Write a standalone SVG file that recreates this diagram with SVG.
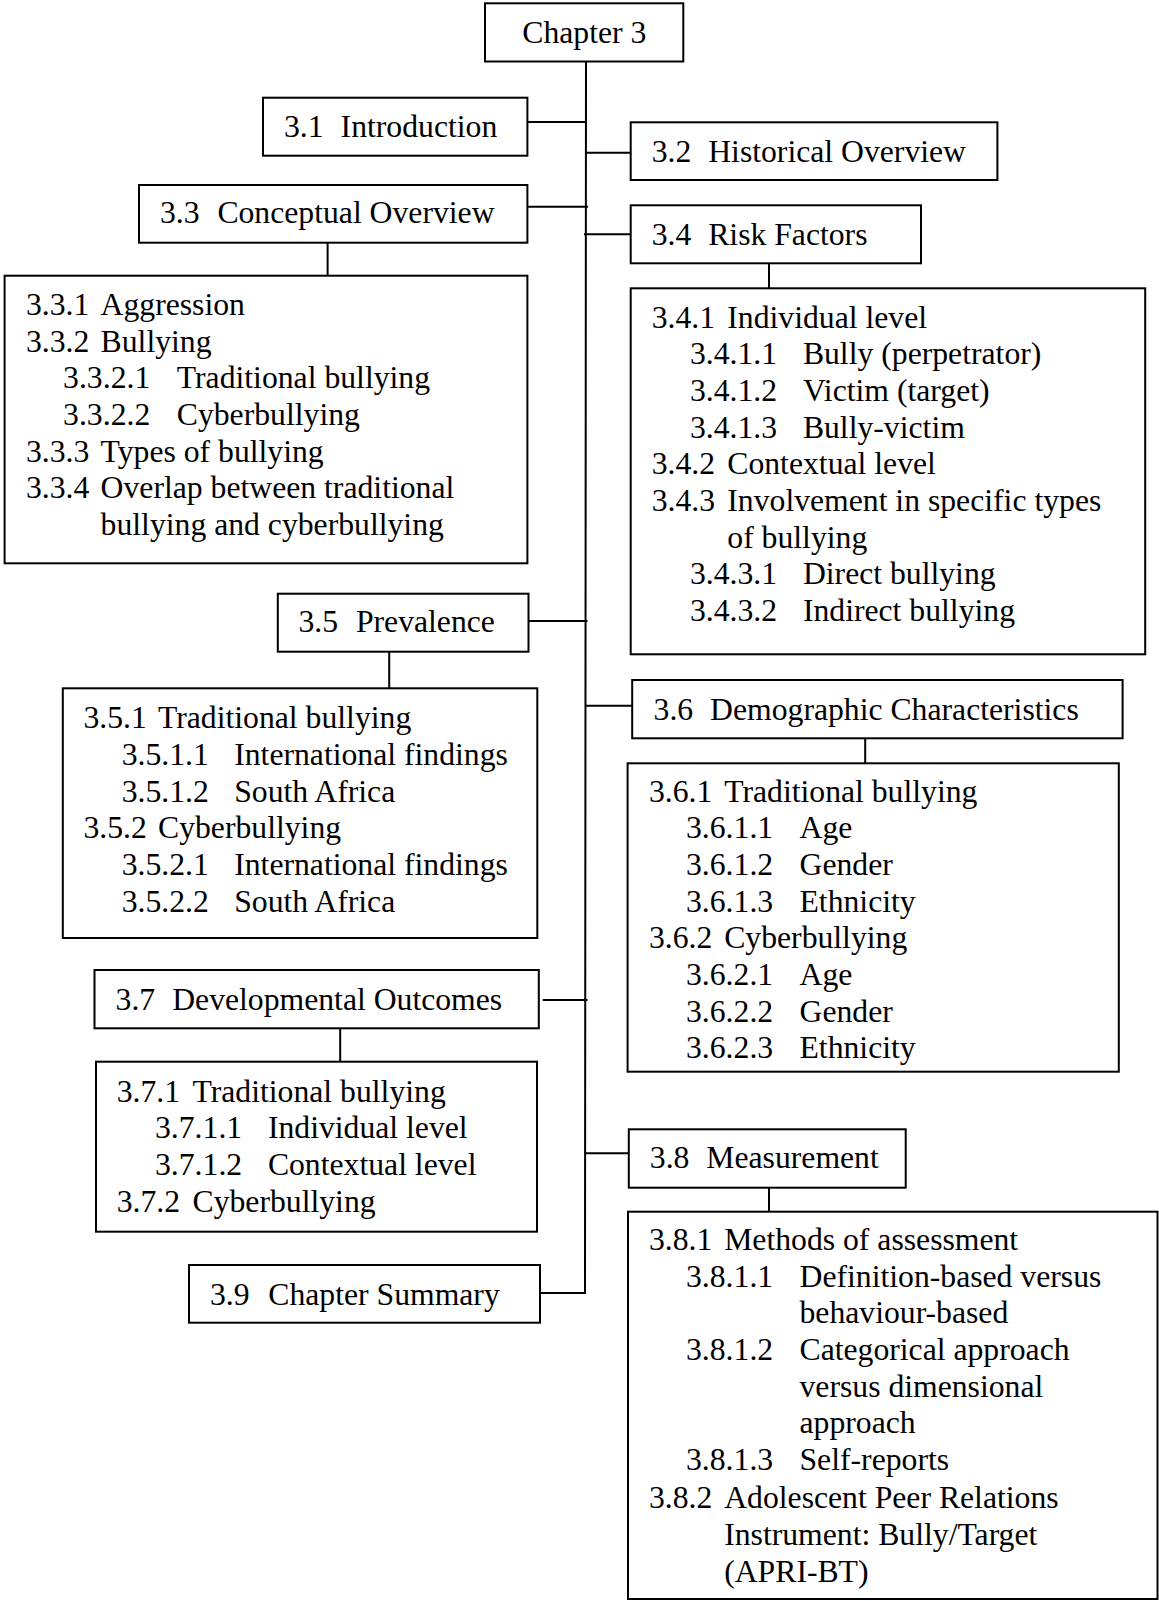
<svg xmlns="http://www.w3.org/2000/svg" width="1159" height="1601" viewBox="0 0 1159 1601">
  <style>
    .box { fill: #fff; stroke: #000; stroke-width: 2; }
    .wire { fill: none; stroke: #000; stroke-width: 2; }
    text { font-family: "Liberation Serif", "Times New Roman", serif; font-size: 31.7px; fill: #000; }
  </style>
  <rect width="1159" height="1601" fill="#fff"/>

  <!-- connectors: trunk, branches and drops to detail boxes -->
  <g id="connectors">
    <path class="wire" d="M586 61.5 L585 1293 H540"/>
    <path class="wire" d="M527.4 122 H585"/>
    <path class="wire" d="M585 152.7 H630.7"/>
    <path class="wire" d="M527.4 206.7 H588"/>
    <path class="wire" d="M584 234.3 H630.7"/>
    <path class="wire" d="M327.6 242.7 V275.7"/>
    <path class="wire" d="M769 263.3 V288.3"/>
    <path class="wire" d="M528.5 621 H587.5"/>
    <path class="wire" d="M389.2 651.7 V688.3"/>
    <path class="wire" d="M585 705.7 H632.2"/>
    <path class="wire" d="M865.2 738.3 V763.3"/>
    <path class="wire" d="M542.7 1000 H587.5"/>
    <path class="wire" d="M340.2 1028.3 V1061.7"/>
    <path class="wire" d="M585 1153.3 H628.8"/>
    <path class="wire" d="M769 1187.7 V1211.7"/>
  </g>

  <g id="chapter3">
    <rect class="box" x="485" y="3.3" width="198.3" height="58.2"/>
    <text x="522.3" y="43.3">Chapter 3</text>
  </g>

  <g id="s3_1">
    <rect class="box" x="263" y="97.7" width="264.4" height="58"/>
    <text y="137.3"><tspan x="284">3.1</tspan><tspan x="340.6">Introduction</tspan></text>
  </g>

  <g id="s3_2">
    <rect class="box" x="630.7" y="122.3" width="366.7" height="57.7"/>
    <text y="162.3"><tspan x="651.7">3.2</tspan><tspan x="708.2">Historical Overview</tspan></text>
  </g>

  <g id="s3_3">
    <rect class="box" x="139" y="185" width="388.4" height="57.7"/>
    <text y="223.3"><tspan x="160">3.3</tspan><tspan x="217.4">Conceptual Overview</tspan></text>
  </g>

  <g id="s3_3_detail">
    <rect class="box" x="4.6" y="275.7" width="522.8" height="287.6"/>
    <text y="315"><tspan x="26">3.3.1</tspan><tspan x="100.6">Aggression</tspan></text>
    <text y="351.7"><tspan x="26">3.3.2</tspan><tspan x="100.6">Bullying</tspan></text>
    <text y="388.3"><tspan x="63.1">3.3.2.1</tspan><tspan x="176.8">Traditional bullying</tspan></text>
    <text y="425"><tspan x="63.1">3.3.2.2</tspan><tspan x="176.8">Cyberbullying</tspan></text>
    <text y="461.7"><tspan x="26">3.3.3</tspan><tspan x="100.6">Types of bullying</tspan></text>
    <text y="498.3"><tspan x="26">3.3.4</tspan><tspan x="100.6">Overlap between traditional</tspan></text>
    <text y="535" x="100.6">bullying and cyberbullying</text>
  </g>

  <g id="s3_4">
    <rect class="box" x="630.7" y="205.3" width="290.3" height="58"/>
    <text y="245"><tspan x="651.7">3.4</tspan><tspan x="708.2">Risk Factors</tspan></text>
  </g>

  <g id="s3_4_detail">
    <rect class="box" x="630.7" y="288.3" width="514.5" height="366"/>
    <text y="327.7"><tspan x="651.7">3.4.1</tspan><tspan x="727.3">Individual level</tspan></text>
    <text y="364.3"><tspan x="689.9">3.4.1.1</tspan><tspan x="802.9">Bully (perpetrator)</tspan></text>
    <text y="401"><tspan x="689.9">3.4.1.2</tspan><tspan x="802.9">Victim (target)</tspan></text>
    <text y="437.7"><tspan x="689.9">3.4.1.3</tspan><tspan x="802.9">Bully-victim</tspan></text>
    <text y="474.3"><tspan x="651.7">3.4.2</tspan><tspan x="727.3">Contextual level</tspan></text>
    <text y="511"><tspan x="651.7">3.4.3</tspan><tspan x="727.3">Involvement in specific types</tspan></text>
    <text y="547.7" x="727.3">of bullying</text>
    <text y="584.3"><tspan x="689.9">3.4.3.1</tspan><tspan x="802.9">Direct bullying</tspan></text>
    <text y="621"><tspan x="689.9">3.4.3.2</tspan><tspan x="802.9">Indirect bullying</tspan></text>
  </g>

  <g id="s3_5">
    <rect class="box" x="277.8" y="593.7" width="250.7" height="58"/>
    <text y="632.3"><tspan x="298.5">3.5</tspan><tspan x="355.9">Prevalence</tspan></text>
  </g>

  <g id="s3_5_detail">
    <rect class="box" x="62.8" y="688.3" width="474.5" height="249.7"/>
    <text y="728.3"><tspan x="83.4">3.5.1</tspan><tspan x="158">Traditional bullying</tspan></text>
    <text y="765"><tspan x="121.7">3.5.1.1</tspan><tspan x="234.2">International findings</tspan></text>
    <text y="801.7"><tspan x="121.7">3.5.1.2</tspan><tspan x="234.2">South Africa</tspan></text>
    <text y="838.3"><tspan x="83.4">3.5.2</tspan><tspan x="158">Cyberbullying</tspan></text>
    <text y="875"><tspan x="121.7">3.5.2.1</tspan><tspan x="234.2">International findings</tspan></text>
    <text y="911.7"><tspan x="121.7">3.5.2.2</tspan><tspan x="234.2">South Africa</tspan></text>
  </g>

  <g id="s3_6">
    <rect class="box" x="632.2" y="680" width="490.4" height="58.3"/>
    <text y="720"><tspan x="653.6">3.6</tspan><tspan x="710.1">Demographic Characteristics</tspan></text>
  </g>

  <g id="s3_6_detail">
    <rect class="box" x="627.6" y="763.3" width="491.2" height="308.4"/>
    <text y="801.7"><tspan x="649">3.6.1</tspan><tspan x="724.2">Traditional bullying</tspan></text>
    <text y="838.3"><tspan x="686">3.6.1.1</tspan><tspan x="799.5">Age</tspan></text>
    <text y="875"><tspan x="686">3.6.1.2</tspan><tspan x="799.5">Gender</tspan></text>
    <text y="911.7"><tspan x="686">3.6.1.3</tspan><tspan x="799.5">Ethnicity</tspan></text>
    <text y="948.3"><tspan x="649">3.6.2</tspan><tspan x="724.2">Cyberbullying</tspan></text>
    <text y="985"><tspan x="686">3.6.2.1</tspan><tspan x="799.5">Age</tspan></text>
    <text y="1021.7"><tspan x="686">3.6.2.2</tspan><tspan x="799.5">Gender</tspan></text>
    <text y="1058.3"><tspan x="686">3.6.2.3</tspan><tspan x="799.5">Ethnicity</tspan></text>
  </g>

  <g id="s3_7">
    <rect class="box" x="94.5" y="970" width="444.3" height="58.3"/>
    <text y="1010"><tspan x="115.6">3.7</tspan><tspan x="172.2">Developmental Outcomes</tspan></text>
  </g>

  <g id="s3_7_detail">
    <rect class="box" x="96" y="1061.7" width="441" height="170"/>
    <text y="1101.7"><tspan x="116.7">3.7.1</tspan><tspan x="192.5">Traditional bullying</tspan></text>
    <text y="1138.3"><tspan x="155">3.7.1.1</tspan><tspan x="267.9">Individual level</tspan></text>
    <text y="1175"><tspan x="155">3.7.1.2</tspan><tspan x="267.9">Contextual level</tspan></text>
    <text y="1211.7"><tspan x="116.7">3.7.2</tspan><tspan x="192.5">Cyberbullying</tspan></text>
  </g>

  <g id="s3_8">
    <rect class="box" x="628.8" y="1129.3" width="276.9" height="58.4"/>
    <text y="1168.3"><tspan x="649.8">3.8</tspan><tspan x="706.3">Measurement</tspan></text>
  </g>

  <g id="s3_8_detail">
    <rect class="box" x="628" y="1211.7" width="529.5" height="387.3"/>
    <text y="1250"><tspan x="649">3.8.1</tspan><tspan x="724.2">Methods of assessment</tspan></text>
    <text y="1286.7"><tspan x="686">3.8.1.1</tspan><tspan x="799.5">Definition-based versus</tspan></text>
    <text y="1323.3" x="799.5">behaviour-based</text>
    <text y="1360"><tspan x="686">3.8.1.2</tspan><tspan x="799.5">Categorical approach</tspan></text>
    <text y="1396.7" x="799.5">versus dimensional</text>
    <text y="1433.3" x="799.5">approach</text>
    <text y="1470"><tspan x="686">3.8.1.3</tspan><tspan x="799.5">Self-reports</tspan></text>
    <text y="1508"><tspan x="649">3.8.2</tspan><tspan x="724.2">Adolescent Peer Relations</tspan></text>
    <text y="1545" x="724.2">Instrument: Bully/Target</text>
    <text y="1581.5" x="724.2">(APRI-BT)</text>
  </g>

  <g id="s3_9">
    <rect class="box" x="189" y="1265" width="351" height="57.7"/>
    <text y="1305"><tspan x="210">3.9</tspan><tspan x="268.3">Chapter Summary</tspan></text>
  </g>
</svg>
